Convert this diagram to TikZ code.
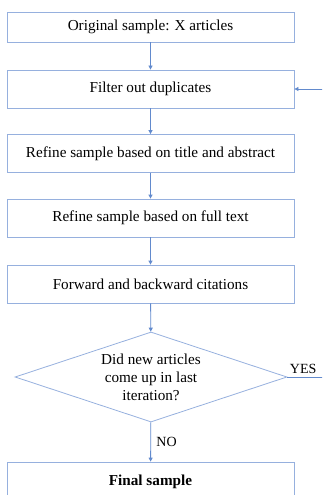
\documentclass[tikz,border=0pt]{standalone}
\usepackage{fontspec}
\setmainfont{Liberation Serif}
\usetikzlibrary{arrows.meta, positioning, shapes.geometric}
\definecolor{boxline}{RGB}{150,176,222}
\definecolor{arrowblue}{RGB}{98,138,205}

\begin{document}
\begin{tikzpicture}[x=1pt, y=-1pt,
    stepbox/.style={rectangle, draw=boxline, line width=0.8pt, minimum width=287pt, minimum height=38pt, inner sep=0pt, font=\fontsize{15.2}{18}\selectfont},
    choice/.style={diamond, draw=boxline, line width=0.8pt, aspect=3, minimum width=272pt, minimum height=90pt, inner sep=0pt, align=center, font=\fontsize{15.2}{18}\selectfont},
    flow/.style={color=arrowblue, line width=0.8pt, -{Triangle[length=4pt, width=4pt]}},
    lbl/.style={text=black, font=\fontsize{14}{16}\selectfont}]
            \useasboundingbox (0,0) rectangle (322,495);
            \clip (0,0) rectangle (322,495);
            \node[stepbox, minimum height=30pt] (orig) at (150.5,27) {Original sample: X articles};
            \node[stepbox] (filter) at (150.5,89) {Filter out duplicates};
            \node[stepbox] (title) at (150.5,153.5) {Refine sample based on title and abstract};
            \node[stepbox] (full) at (150.5,218) {Refine sample based on full text};
            \node[stepbox] (cite) at (150.5,284) {Forward and backward citations};
            \node[choice] (new) at (151,377) {Did new articles\\come up in last\\iteration?};
            \node[stepbox, minimum height=40pt] (final) at (150.5,482) {\textbf{Final sample}};
            \coordinate (loop) at (340,377);
            \draw[flow] (orig)--(filter);
            \draw[flow] (filter)--(title);
            \draw[flow] (title)--(full);
            \draw[flow] (full)--(cite);
            \draw[flow] (cite)--(new);
            \draw[flow] (new)--node[lbl, right=2pt] {NO} (final);
            \draw[color=arrowblue, line width=0.8pt] (new.east)--node[lbl, above, pos=0.3] {YES} (loop);
            \draw[flow] (loop)|-(filter.east);
        \end{tikzpicture}
\end{document}
